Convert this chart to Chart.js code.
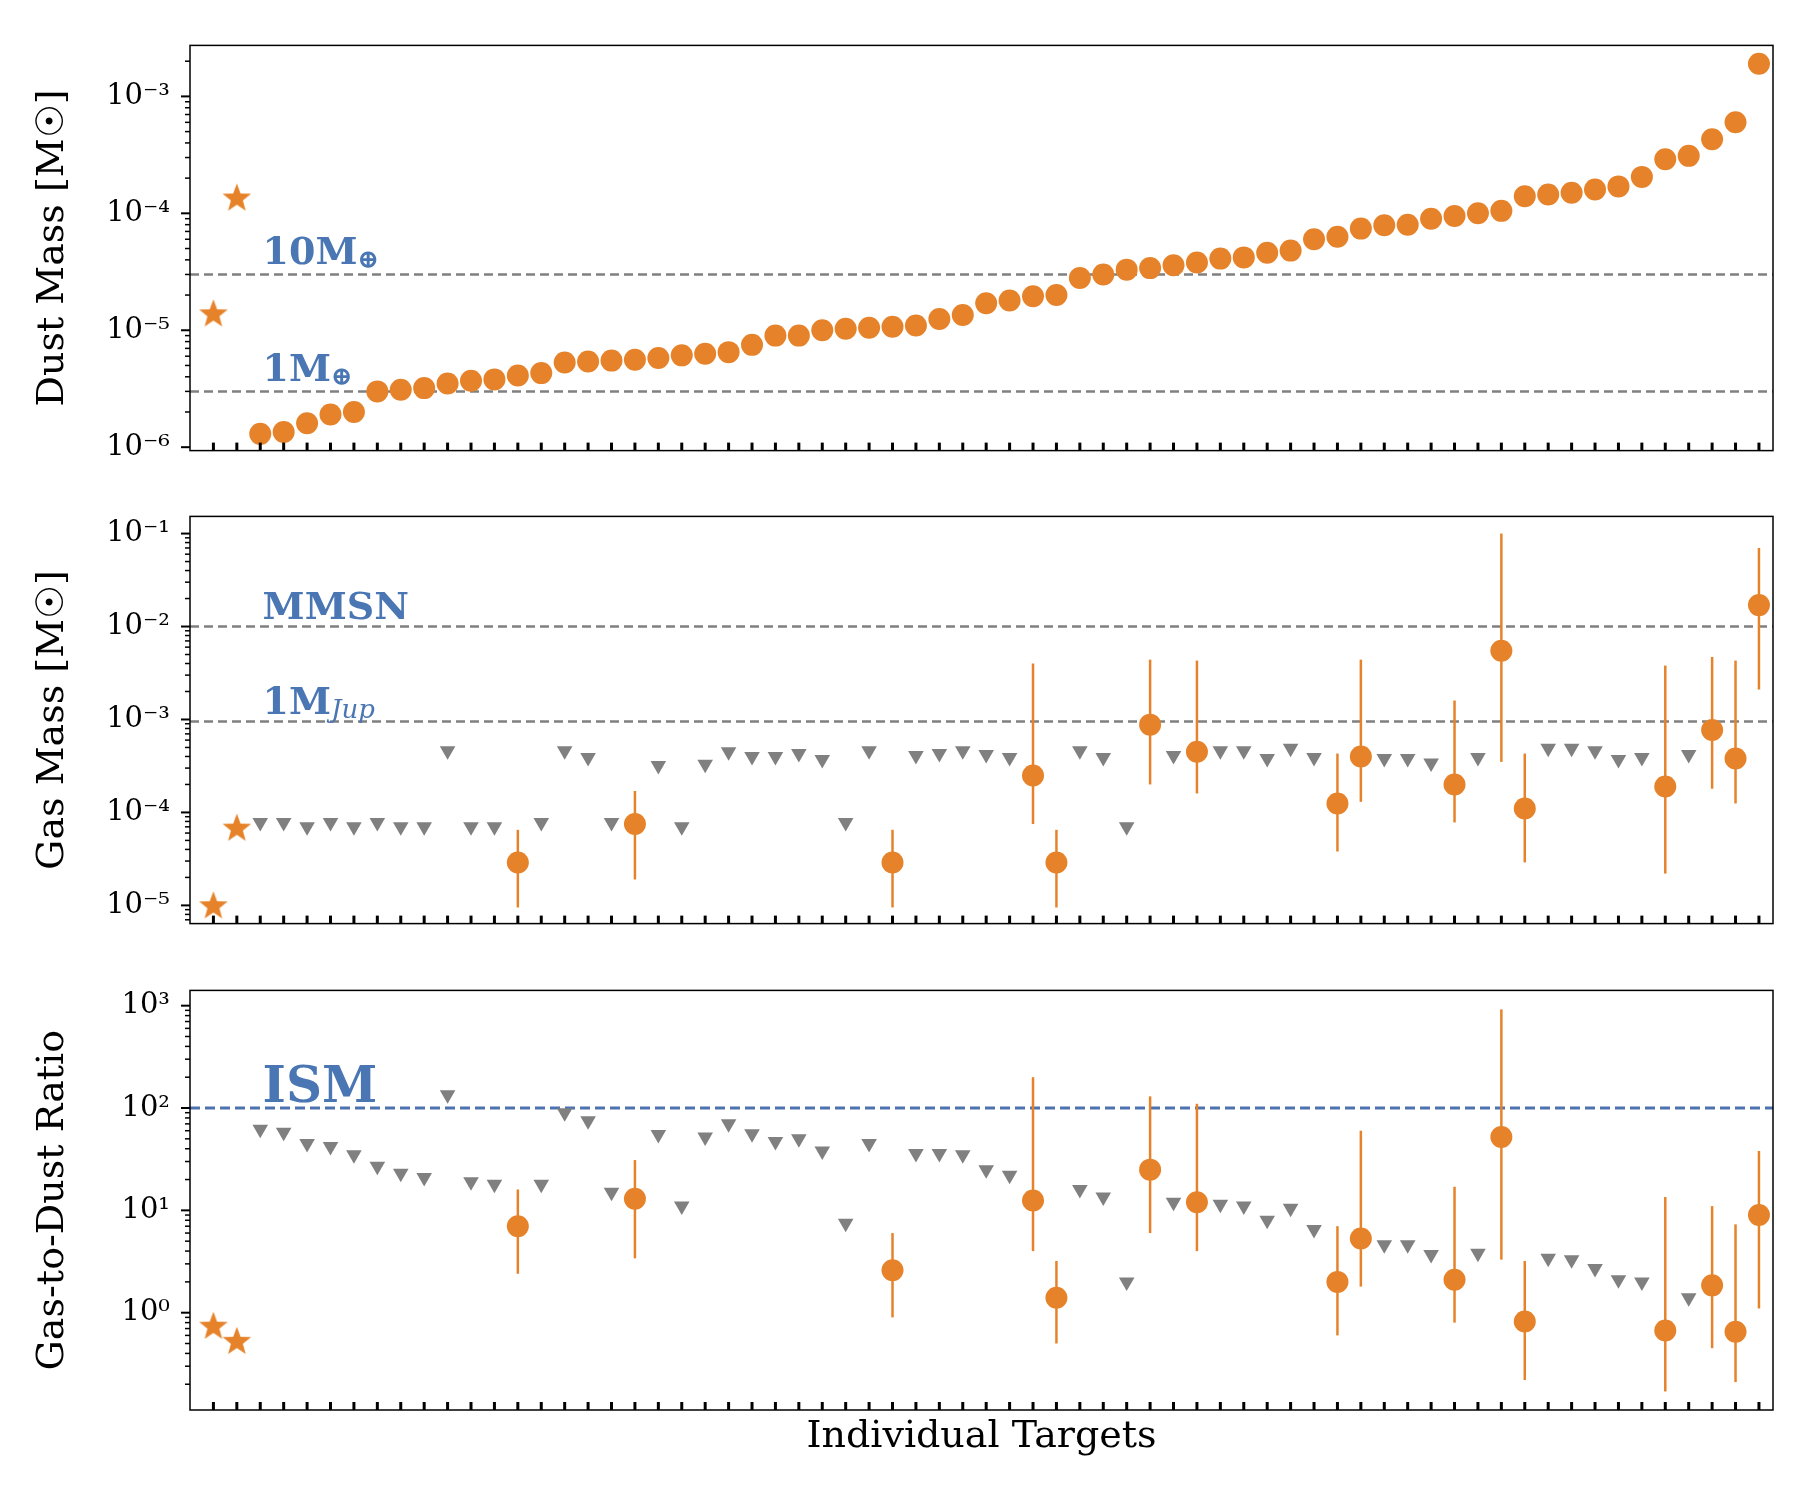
<!DOCTYPE html>
<html>
<head>
<meta charset="utf-8">
<script src="https://cdn.jsdelivr.net/npm/chart.js@4"></script>
<style>
  body { margin: 0; background: #fff; }
  #wrap { position: relative; width: 1800px; height: 1500px; overflow: hidden; }
  canvas { position: absolute; left: 0; }
</style>
</head>
<body>
<div id="wrap">
  <canvas id="c_dust" style="top:16px" width="1800" height="464"></canvas>
  <canvas id="c_gas" style="top:487px" width="1800" height="466"></canvas>
  <canvas id="c_ratio" style="top:961px" width="1800" height="539"></canvas>
</div>
<script>
// ---- data ----
const starIdx = [0, 1]
const starDust = [1.37e-5, 1.34e-4]
const starGas = [9.8e-6, 6.7e-5]
const starRatio = [0.73, 0.52]

// dust masses for targets at index 2..66 (sorted)
const dustMass = [1.3e-6,1.35e-6,1.6e-6,1.9e-6,2.0e-6,
  3.0e-6,3.1e-6,3.2e-6,3.5e-6,3.7e-6,3.8e-6,4.1e-6,4.3e-6,
  5.3e-6,5.4e-6,5.5e-6,5.6e-6,5.8e-6,6.1e-6,6.3e-6,6.5e-6,7.5e-6,
  9.0e-6,9.0e-6,1.0e-5,1.03e-5,1.05e-5,1.07e-5,1.1e-5,1.25e-5,1.35e-5,
  1.7e-5,1.8e-5,1.95e-5,2.0e-5,
  2.8e-5,3.0e-5,3.3e-5,3.4e-5,3.6e-5,3.8e-5,4.1e-5,4.2e-5,4.6e-5,4.8e-5,
  6.0e-5,6.3e-5,7.4e-5,7.9e-5,8.0e-5,9.0e-5,9.5e-5,1.0e-4,1.05e-4,
  1.4e-4,1.45e-4,1.5e-4,1.6e-4,1.7e-4,2.05e-4,
  2.9e-4,3.1e-4,4.3e-4,6.0e-4,1.9e-3]

// upper limits (gray triangles)
const limIdx = [2,3,4,5,6,7,8,9,10,11,12,14,15,16,17,19,20,21,22,23,24,25,26,27,28,
  30,31,32,33,34,37,38,39,41,43,44,45,46,47,50,51,52,54,57,58,59,60,61,63]
const gasLim = [7.8e-5,7.8e-5,7e-5,7.8e-5,7e-5,7.8e-5,7e-5,7e-5,4.6e-4,7e-5,7e-5,7.8e-5,4.6e-4,3.9e-4,7.8e-5,
  3.2e-4,7e-5,3.3e-4,4.5e-4,4e-4,4e-4,4.3e-4,3.7e-4,7.8e-5,4.6e-4,
  4.1e-4,4.3e-4,4.6e-4,4.2e-4,3.9e-4,4.6e-4,3.9e-4,7e-5,4.1e-4,4.6e-4,4.6e-4,3.8e-4,4.9e-4,3.9e-4,
  3.8e-4,3.8e-4,3.4e-4,3.9e-4,4.9e-4,4.9e-4,4.6e-4,3.7e-4,3.9e-4,4.2e-4]
const ratioLim = [62,58,45,42,35,27,23,21,135,19,18,18,90,75,15,
  55,11,52,70,56,47,50,38,7.5,45,
  36,36,35,25,22,16,13.5,2.0,12,11.5,11,8,10.5,6.5,
  4.6,4.6,3.7,3.8,3.4,3.3,2.7,2.1,2.0,1.4]

// detections with error bars
const detIdx = [13,18,29,35,36,40,42,48,49,53,55,56,62,64,65,66]
const gasDet = [2.9e-5,7.5e-5,2.9e-5,2.5e-4,2.9e-5,8.8e-4,4.5e-4,1.25e-4,4e-4,2e-4,5.5e-3,1.1e-4,1.9e-4,7.7e-4,3.8e-4,1.7e-2]
const gasHi = [6.5e-5,1.7e-4,6.5e-5,4e-3,6.5e-5,4.4e-3,4.3e-3,4.3e-4,4.4e-3,1.6e-3,0.1,4.3e-4,3.8e-3,4.7e-3,4.3e-3,0.07]
const gasLo = [9.5e-6,1.9e-5,9.5e-6,7.5e-5,9.5e-6,2e-4,1.6e-4,3.8e-5,1.3e-4,7.8e-5,3.5e-4,2.9e-5,2.2e-5,1.8e-4,1.25e-4,2.1e-3]
const ratioDet = [7,13,2.6,12.5,1.4,25,12,2,5.3,2.1,52,0.82,0.67,1.85,0.65,9]
const ratioHi = [16,31,6,200,3.2,130,110,7,60,17,920,3.2,13.5,11,7.3,38]
const ratioLo = [2.4,3.4,0.9,4,0.5,6,4,0.6,1.8,0.8,3.3,0.22,0.17,0.45,0.21,1.1]

const nTicks = 67
const ORANGE = '#e6832a'
const GRAY = '#808080'
const BLUE = '#4a76b3'
const FONT = 'DejaVu Serif'

// filled five-point star marker
function makeStar(r) {
  const c = document.createElement('canvas')
  c.width = c.height = r * 2 + 2
  const g = c.getContext('2d')
  g.fillStyle = ORANGE
  g.beginPath()
  for (let i = 0; i < 10; i++) {
    const rad = i % 2 ? r * 0.42 : r
    const a = -Math.PI / 2 + i * Math.PI / 5
    g.lineTo(r + 1 + rad * Math.cos(a), r + 1 + rad * Math.sin(a))
  }
  g.closePath()
  g.fill()
  return c
}
const starImg = makeStar(15)

const sup = { '-': '⁻', '0': '⁰', '1': '¹', '2': '²', '3': '³', '4': '⁴', '5': '⁵', '6': '⁶', '7': '⁷', '8': '⁸', '9': '⁹' }
function logLabel(v) {
  const e = Math.round(Math.log10(v))
  return '10' + String(e).split('').map(ch => sup[ch]).join('')
}

function pts(idx, vals) { return idx.map((x, i) => ({ x: x, y: vals[i] })) }

function makeChart(id, opts) {
  const frame = {
    id: 'frame',
    beforeDatasetsDraw(chart) {
      const g = chart.ctx, a = chart.chartArea
      const xs = chart.scales.x, ys = chart.scales.y
      g.save()
      // reference lines
      opts.hlines.forEach(h => {
        const py = ys.getPixelForValue(h.v)
        g.strokeStyle = h.color
        g.lineWidth = h.width
        g.setLineDash(h.dash)
        g.beginPath(); g.moveTo(a.left, py); g.lineTo(a.right, py); g.stroke()
      })
      g.setLineDash([])
      // error bars
      if (opts.err) {
        g.strokeStyle = ORANGE
        g.lineWidth = 2.5
        opts.err.idx.forEach((x, i) => {
          const px = xs.getPixelForValue(x)
          g.beginPath()
          g.moveTo(px, ys.getPixelForValue(opts.err.hi[i]))
          g.lineTo(px, ys.getPixelForValue(opts.err.lo[i]))
          g.stroke()
        })
      }
      g.restore()
    },
    afterDraw(chart) {
      const g = chart.ctx, a = chart.chartArea
      const xs = chart.scales.x, ys = chart.scales.y
      g.save()
      g.strokeStyle = '#000'
      g.lineWidth = 1.5
      g.strokeRect(a.left, a.top, a.right - a.left, a.bottom - a.top)
      // x ticks pointing inward
      g.lineWidth = 3
      for (let i = 0; i < nTicks; i++) {
        const px = xs.getPixelForValue(i)
        g.beginPath(); g.moveTo(px, a.bottom); g.lineTo(px, a.bottom - 8); g.stroke()
      }
      // y ticks outward, minor shorter
      ys.ticks.forEach(t => {
        const py = ys.getPixelForValue(t.value)
        const major = Math.abs(Math.log10(t.value) - Math.round(Math.log10(t.value))) < 1e-6
        g.lineWidth = major ? 2 : 1.5
        g.beginPath(); g.moveTo(a.left, py); g.lineTo(a.left - (major ? 9 : 5), py); g.stroke()
      })
      // annotations
      g.fillStyle = BLUE
      g.textBaseline = 'alphabetic'
      opts.notes.forEach(n => {
        const px = xs.getPixelForValue(n.x)
        const py = ys.getPixelForValue(n.v) - n.off
        g.font = 'bold ' + n.size + 'px "' + FONT + '"'
        g.fillText(n.text, px, py)
        if (n.sub) {
          const w = g.measureText(n.text).width
          g.font = (n.subItalic ? 'italic ' : 'bold ') + n.subSize + 'px "' + FONT + '"'
          g.fillText(n.sub, px + w, py + 4)
        }
      })
      g.restore()
    }
  }

  return new Chart(document.getElementById(id), {
    type: 'scatter',
    data: { datasets: opts.datasets },
    options: {
      responsive: false,
      animation: false,
      layout: { padding: { top: 10, right: 27, left: 0, bottom: 0 } },
      plugins: { legend: { display: false }, tooltip: { enabled: false } },
      scales: {
        x: {
          type: 'linear', min: -1, max: 66.6,
          grid: { display: false }, border: { display: false },
          ticks: { display: false },
          title: { display: !!opts.xTitle, text: opts.xTitle || '', font: { family: FONT, size: 38 }, color: '#000', padding: { top: 0, bottom: 40 } },
          afterFit(s) { s.height = opts.xh }
        },
        y: {
          type: 'logarithmic', min: opts.ymin, max: opts.ymax,
          grid: { display: false }, border: { display: false },
          afterBuildTicks(s) {
            const t = []
            for (let e = Math.floor(Math.log10(opts.ymin)); e <= Math.ceil(Math.log10(opts.ymax)); e++) {
              for (let m = 1; m < 10; m++) {
                const v = m * Math.pow(10, e)
                if (v >= opts.ymin && v <= opts.ymax) t.push({ value: v })
              }
            }
            s.ticks = t
          },
          ticks: {
            autoSkip: false, padding: 12, color: '#000',
            font: { family: FONT, size: 29 },
            callback(v) {
              const l = Math.log10(v)
              return Math.abs(l - Math.round(l)) < 1e-6 ? logLabel(v) : ''
            }
          },
          title: { display: true, text: opts.yTitle, font: { family: FONT, size: 38 }, color: '#000', padding: { top: 30, bottom: 4 } },
          afterFit(s) { s.width = 190 }
        }
      }
    },
    plugins: [frame]
  })
}

const starSet = vals => ({ data: pts(starIdx, vals), pointStyle: starImg, pointRadius: 15 })
const circleSet = data => ({ data: data, pointStyle: 'circle', pointRadius: 11, backgroundColor: ORANGE, borderWidth: 0 })
const triSet = vals => ({ data: pts(limIdx, vals), pointStyle: 'triangle', rotation: 180, pointRadius: 9, backgroundColor: GRAY, borderWidth: 0 })
const dashGray = v => ({ v: v, color: GRAY, width: 2.5, dash: [9, 5] })

makeChart('c_dust', {
  ymin: 9.35e-7, ymax: 2.73e-3, xh: 10,
  yTitle: 'Dust Mass [M☉]',
  hlines: [dashGray(3e-5), dashGray(3e-6)],
  notes: [
    { text: '10M', sub: '⊕', x: 2.1, v: 3e-5, off: 10, size: 38, subSize: 26 },
    { text: '1M', sub: '⊕', x: 2.1, v: 3e-6, off: 10, size: 38, subSize: 26 }
  ],
  datasets: [starSet(starDust), circleSet(dustMass.map((v, i) => ({ x: i + 2, y: v })))]
})

makeChart('c_gas', {
  ymin: 6.37e-6, ymax: 0.153, xh: 10,
  yTitle: 'Gas Mass [M☉]',
  hlines: [dashGray(1e-2), dashGray(9.5e-4)],
  err: { idx: detIdx, hi: gasHi, lo: gasLo },
  notes: [
    { text: 'MMSN', x: 2.1, v: 1e-2, off: 8, size: 38 },
    { text: '1M', sub: 'Jup', subItalic: true, x: 2.1, v: 9.5e-4, off: 8, size: 38, subSize: 26 }
  ],
  datasets: [starSet(starGas), triSet(gasLim), circleSet(pts(detIdx, gasDet))]
})

makeChart('c_ratio', {
  ymin: 0.112, ymax: 1410, xh: 90,
  yTitle: 'Gas-to-Dust Ratio', xTitle: 'Individual Targets',
  hlines: [{ v: 100, color: '#4c72b0', width: 3, dash: [10, 5] }],
  err: { idx: detIdx, hi: ratioHi, lo: ratioLo },
  notes: [{ text: 'ISM', x: 2.1, v: 100, off: 6, size: 50 }],
  datasets: [starSet(starRatio), triSet(ratioLim), circleSet(pts(detIdx, ratioDet))]
})
</script>
</body>
</html>
